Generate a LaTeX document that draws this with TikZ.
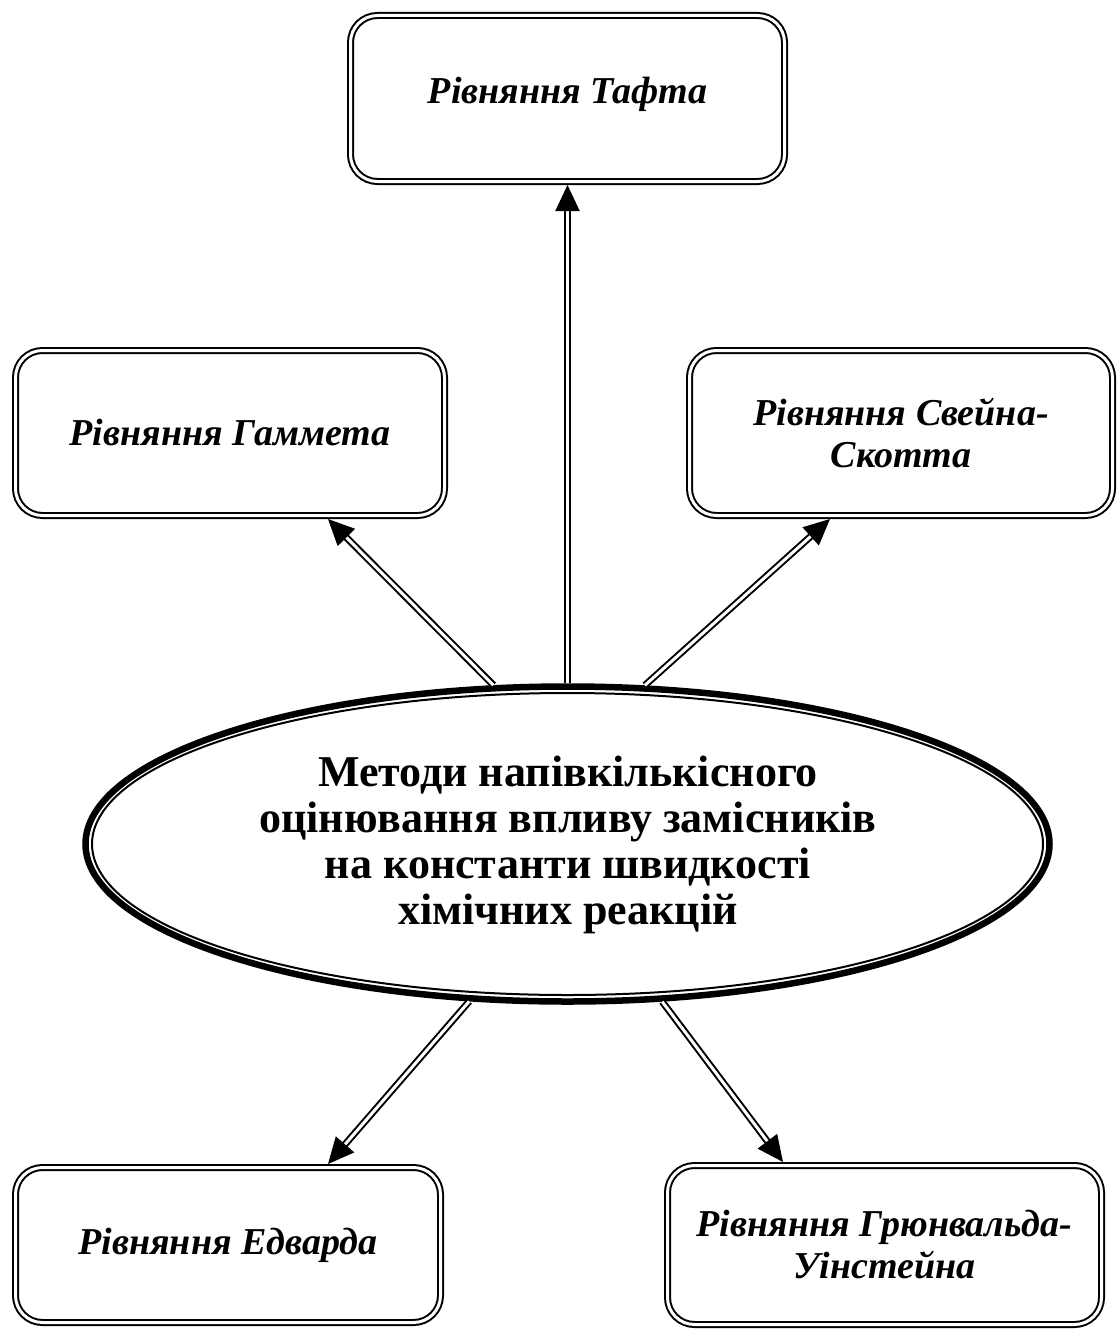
\documentclass[tikz,border=0pt]{standalone}
\usepackage{fontspec}
\setmainfont{Liberation Serif}
\usetikzlibrary{shapes.geometric,arrows.meta}
\begin{document}
\begin{tikzpicture}[x=1pt,y=-1pt,
  methodbox/.style={draw, double, line width=2pt, double distance=3pt,
    rounded corners=27pt, inner sep=0pt, outer sep=3.5pt, align=center,
    font=\fontsize{38}{42}\selectfont\bfseries\itshape},
  link/.style={draw, double, line width=2pt, double distance=3pt,
    -{Triangle[length=26pt,width=24pt]}}]
\useasboundingbox (0,0) rectangle (1117,1335);

% outer method boxes
\node[methodbox, minimum width=434pt, minimum height=166pt] (taft) at (567.5,98.5) {};
\node[font=\fontsize{38}{42}\selectfont\bfseries\itshape] (tafttext) at (567.5,94) {Рівняння Тафта};
\node[methodbox, minimum width=429pt, minimum height=165pt] (hammett) at (230,433) {Рівняння Гаммета};
\node[methodbox, minimum width=423pt, minimum height=165pt] (swain) at (901,433) {Рівняння Свейна-\\Скотта};
\node[methodbox, minimum width=425pt, minimum height=155pt] (edward) at (228,1245) {Рівняння Едварда};
\node[methodbox, minimum width=434pt, minimum height=159pt] (grunwald) at (884.5,1245) {Рівняння Грюнвальда-\\Уінстейна};

% central ellipse: thick outer line with a thin inner line
\node[draw, ellipse, line width=6.5pt, minimum width=964pt, minimum height=315pt, inner sep=0pt] (core) at (567.5,844) {};
\draw[line width=2pt] (core.center) ellipse [x radius=475.5pt, y radius=151pt];
\node[align=center, font=\fontsize{44}{46}\selectfont\bfseries] (coretext) at (568,845)
  {Методи напівкількісного\\оцінювання впливу замісників\\на константи швидкості\\хімічних реакцій};

% connectors
\draw[link] (core.90) -- (taft.south);
\draw[link] (core.115.7) -- ([xshift=98pt]hammett.south);
\draw[link] (core.64.9) -- ([xshift=-71pt]swain.south);
\draw[link] (core.238.8) -- ([xshift=100pt]edward.north);
\draw[link] (core.301.7) -- ([xshift=-101.5pt]grunwald.north);
\end{tikzpicture}
\end{document}
